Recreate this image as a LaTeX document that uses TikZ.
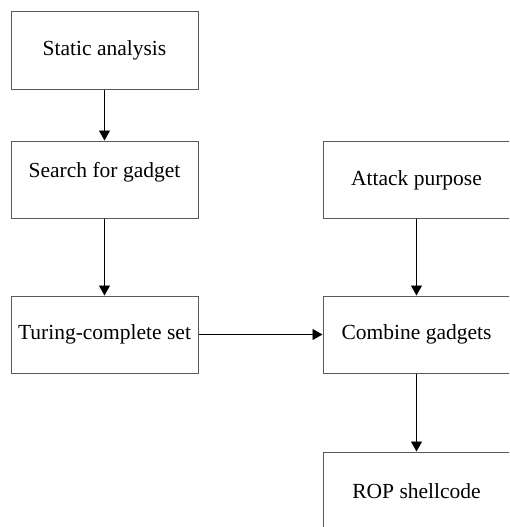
\documentclass[tikz,border=0pt]{standalone}
\usepackage{fontspec}
\setmainfont{Liberation Serif}
\usetikzlibrary{arrows.meta}
\begin{document}
\begin{tikzpicture}[x=1pt,y=-1pt,
  box/.style={draw=black!65,line width=1pt,rectangle,minimum width=187pt,minimum height=77pt,inner sep=0pt,anchor=center},
  wbox/.style={box,minimum width=200pt},
  txt/.style={font=\fontsize{21.5}{25}\selectfont,inner sep=0pt,anchor=center},
  flow/.style={line width=0.9pt,-{Triangle[width=11pt,length=10pt]}}]
\clip (0,0) rectangle (509,527);
% left column
\node[box] (b1) at (104.5,50.5) {};
\node[txt] (t1) at (b1.center) {Static analysis};
\node[box] (b2) at (104.5,179.5) {};
\node[txt] (t2) at ([yshift=7pt]b2.center) {Search for gadget};
\node[box] (b3) at (104.5,334.5) {};
\node[txt] (t3) at (b3.center) {Turing-complete set};
% right column (runs past the right edge of the page)
\node[wbox] (b4) at (423,179.5) {};
\node[txt] (t4) at ([xshift=-6.5pt,yshift=-1pt]b4.center) {Attack purpose};
\node[wbox] (b5) at (423,334.5) {};
\node[txt] (t5) at ([xshift=-6.5pt]b5.center) {Combine gadgets};
\node[wbox] (b6) at (423,490.5) {};
\node[txt] (t6) at ([xshift=-6.5pt,yshift=-1pt]b6.center) {ROP shellcode};
% connectors
\draw[flow] (b1.south) -- (b2.north);
\draw[flow] (b2.south) -- (b3.north);
\draw[flow] (b3.east) -- (b5.west);
\draw[flow] ([xshift=-6.5pt]b4.south) -- ([xshift=-6.5pt]b5.north);
\draw[flow] ([xshift=-6.5pt]b5.south) -- ([xshift=-6.5pt]b6.north);
\end{tikzpicture}
\end{document}
